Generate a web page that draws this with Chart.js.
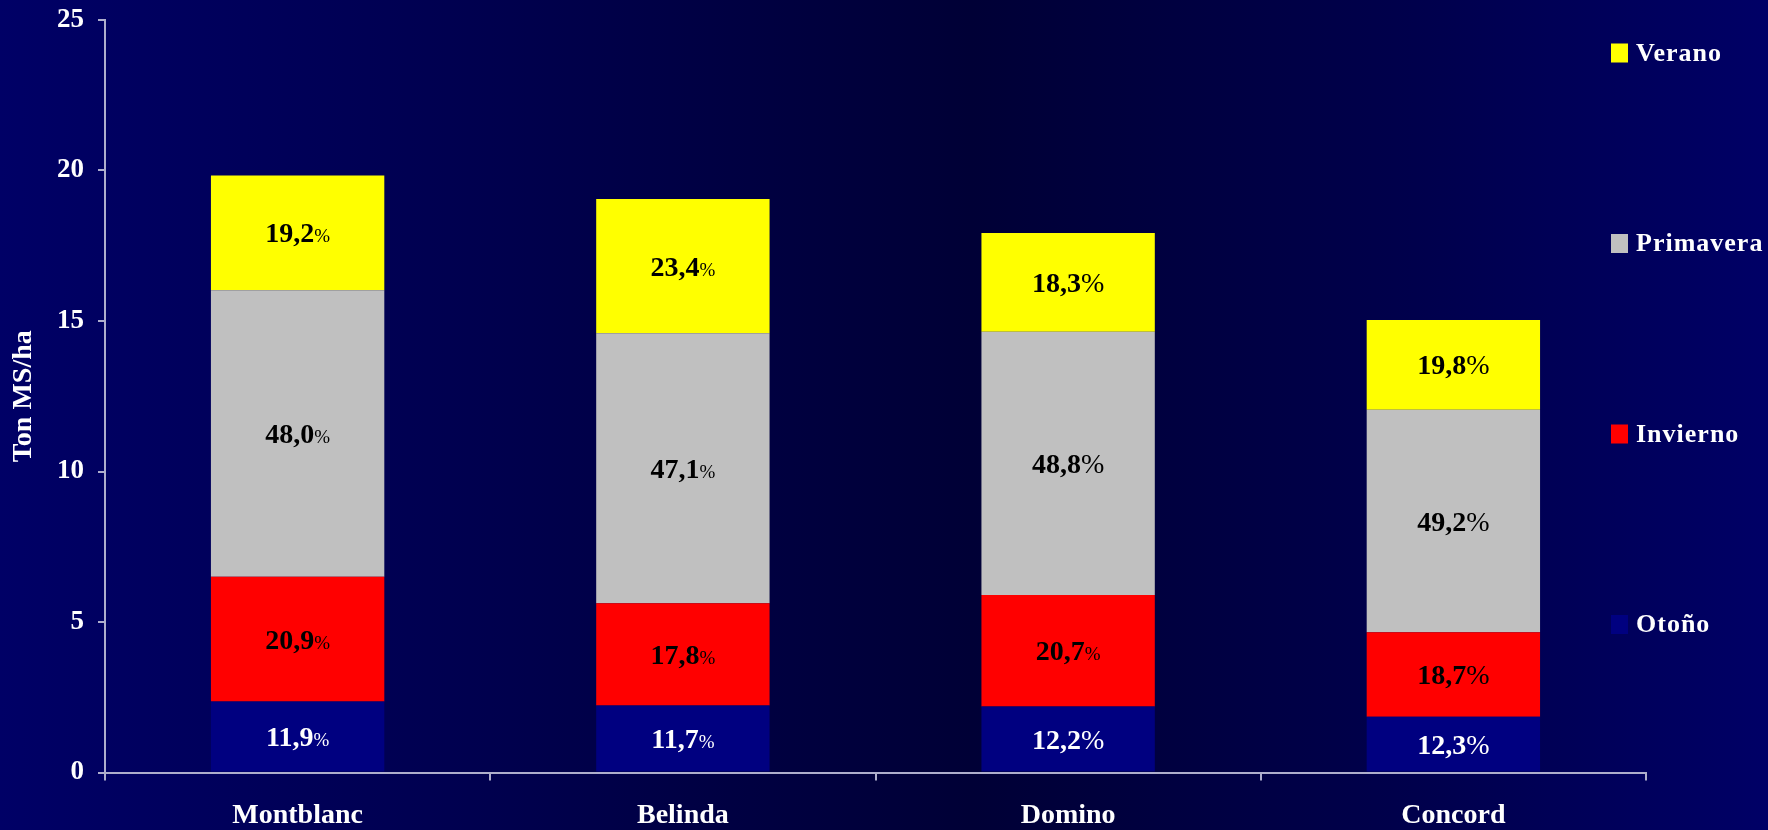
<!DOCTYPE html>
<html lang="es">
<head>
<meta charset="utf-8">
<title>Producción estacional - Ton MS/ha</title>
<script src="https://cdn.jsdelivr.net/npm/chart.js@4"></script>
<style>
    html, body { margin: 0; padding: 0; }
    body {
        width: 1768px; height: 830px; overflow: hidden;
        background: linear-gradient(90deg, #000066 0%, #00004c 30%, #000036 55%, #00004c 80%, #000066 100%);
    }
    canvas { display: block; }
</style>
</head>
<body>
<canvas id="chart" width="1768" height="830"></canvas>
<script>
// --- DATA ---
const categories = ['Montblanc', 'Belinda', 'Domino', 'Concord'];
const otono     = [2.36, 2.23, 2.19, 1.85];
const invierno  = [4.14, 3.39, 3.71, 2.81];
const primavera = [9.52, 8.97, 8.74, 7.39];
const verano    = [3.81, 4.46, 3.28, 2.98];

const pctOtono     = ['11,9', '11,7', '12,2', '12,3'];
const pctInvierno  = ['20,9', '17,8', '20,7', '18,7'];
const pctPrimavera = ['48,0', '47,1', '48,8', '49,2'];
const pctVerano    = ['19,2', '23,4', '18,3', '19,8'];

const yTicks = [0, 5, 10, 15, 20, 25];

// --- STYLE ---
const FONT = '"Liberation Serif", "Times New Roman", serif';
const AXIS_COLOR = '#aeaecc';

// --- PLUGIN: percent labels inside each segment ---
const segmentLabels = {
    id: 'segmentLabels',
    afterDatasetsDraw(chart) {
        const ctx = chart.ctx;
        chart.data.datasets.forEach((ds, i) => {
            const meta = chart.getDatasetMeta(i);
            meta.data.forEach((bar, j) => {
                const num = ds.pct[j];
                const midY = (bar.y + bar.base) / 2;
                const numFont = 'bold 28px ' + FONT;
                // the "%" sign is smaller on some segments, as in the original slide
                const pctFont = (ds.smallPct[j] ? '19px ' : '28px ') + FONT;

                ctx.save();
                ctx.font = numFont;
                const w1 = ctx.measureText(num).width;
                ctx.font = pctFont;
                const w2 = ctx.measureText('%').width;

                const x0 = bar.x - (w1 + w2) / 2;
                const base = midY + 9.5;
                ctx.fillStyle = ds.labelColor;
                ctx.textAlign = 'left';
                ctx.textBaseline = 'alphabetic';
                ctx.font = numFont;
                ctx.fillText(num, x0, base);
                ctx.font = pctFont;
                ctx.fillText('%', x0 + w1, base);
                ctx.restore();
            });
        });
    }
};

// --- PLUGIN: legend column on the right ---
const sideLegend = {
    id: 'sideLegend',
    afterDraw(chart) {
        const ctx = chart.ctx;
        const items = chart.data.datasets.slice().reverse();
        const top = 53, step = 190.5, boxX = 1611, boxW = 17, boxH = 19;
        ctx.save();
        ctx.font = 'bold 26px ' + FONT;
        ctx.textBaseline = 'middle';
        ctx.textAlign = 'left';
        if ('letterSpacing' in ctx) ctx.letterSpacing = '1px';
        items.forEach((ds, k) => {
            const y = top + k * step;
            ctx.fillStyle = ds.backgroundColor;
            ctx.fillRect(boxX, y - boxH / 2, boxW, boxH);
            ctx.fillStyle = '#ffffff';
            ctx.fillText(ds.label, boxX + 25, y + 1);
        });
        ctx.restore();
    }
};

// --- CHART ---
const ctx = document.getElementById('chart').getContext('2d');

new Chart(ctx, {
    type: 'bar',
    data: {
        labels: categories,
        datasets: [
            { label: 'Otoño',     data: otono,     pct: pctOtono,     backgroundColor: '#000080', labelColor: '#ffffff',
              smallPct: [true, true, false, false] },
            { label: 'Invierno',  data: invierno,  pct: pctInvierno,  backgroundColor: '#ff0000', labelColor: '#000000',
              smallPct: [true, true, true, false] },
            { label: 'Primavera', data: primavera, pct: pctPrimavera, backgroundColor: '#c0c0c0', labelColor: '#000000',
              smallPct: [true, true, false, false] },
            { label: 'Verano',    data: verano,    pct: pctVerano,    backgroundColor: '#ffff00', labelColor: '#000000',
              smallPct: [true, true, false, false] }
        ]
    },
    options: {
        responsive: false,
        animation: false,
        layout: { padding: { top: 20, right: 122, left: 0, bottom: 0 } },
        datasets: {
            bar: { categoryPercentage: 1, barPercentage: 0.45, borderWidth: 0 }
        },
        plugins: {
            legend: { display: false },
            tooltip: { enabled: false }
        },
        scales: {
            x: {
                stacked: true,
                grid: { offset: true, drawOnChartArea: false, tickLength: 8, color: AXIS_COLOR, lineWidth: 2 },
                border: { color: AXIS_COLOR, width: 2 },
                ticks: { color: '#ffffff', font: { family: FONT, size: 28, weight: 'bold' }, padding: 18 },
                afterFit(scale) { scale.height = 57.5; }
            },
            y: {
                stacked: true,
                min: 0,
                max: 25,
                afterBuildTicks(scale) { scale.ticks = yTicks.map(v => ({ value: v })); },
                grid: { drawOnChartArea: false, tickLength: 7, color: AXIS_COLOR, lineWidth: 2 },
                border: { color: AXIS_COLOR, width: 2 },
                ticks: { color: '#ffffff', font: { family: FONT, size: 27, weight: 'bold' }, padding: 14 },
                title: {
                    display: true,
                    text: 'Ton MS/ha',
                    color: '#ffffff',
                    font: { family: FONT, size: 28, weight: 'bold' },
                    padding: { top: 7, bottom: 0 }
                },
                afterFit(scale) {
                    scale.width = 105;
                    scale.paddingTop = 0;
                    scale.paddingBottom = 0;
                }
            }
        }
    },
    plugins: [segmentLabels, sideLegend]
});
</script>
</body>
</html>
